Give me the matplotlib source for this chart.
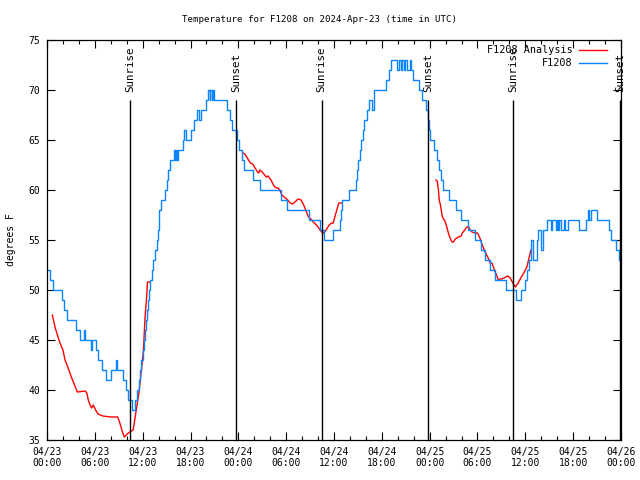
import matplotlib
matplotlib.use("Agg")
import matplotlib.pyplot as plt
from matplotlib.ticker import MultipleLocator

# ---- data (hours since 2024-04-23 00:00 UTC) ----
obs_hours = [0.1, 0.38, 0.79, 1.84, 2.17, 2.47, 3.6, 4.1, 4.64, 4.77, 5.55, 5.7, 6.1, 6.36, 6.94,
             7.4, 8.03, 8.6, 8.82, 9.49, 9.87, 10.2, 10.7, 11.1, 11.33, 11.54, 11.7, 11.85, 12.0,
             12.2, 12.35, 12.45, 12.55, 12.65, 12.8, 12.92, 13.13, 13.34, 13.6, 13.8, 13.9, 14.0,
             14.1, 14.3, 14.85, 15.0, 15.22, 15.39, 15.9, 16.06, 16.14, 16.3, 16.4, 17.0, 17.2,
             17.44, 18.0, 18.4, 18.86, 19.1, 19.3, 19.9, 20.16, 20.4, 20.5, 20.7, 20.8, 21.0,
             22.6, 22.96, 23.25, 23.85, 24.1, 24.45, 24.75, 25.8, 26.75, 29.35, 30.15, 32.85,
             34.3, 34.75, 35.9, 36.76, 36.85, 37.0, 37.9, 38.8, 38.9, 39.06, 39.2, 39.4, 39.6,
             39.8, 40.1, 40.4, 40.8, 41.0, 42.5, 42.9, 43.1, 43.9, 44.2, 44.35, 44.5, 44.8,
             44.96, 45.2, 45.5, 45.7, 45.9, 46.7, 47.1, 47.6, 47.8, 47.95, 48.1, 48.5, 48.9,
             49.2, 49.4, 49.7, 50.4, 51.3, 51.9, 52.8, 53.7, 54.5, 55.0, 55.6, 56.2, 57.6,
             58.85, 59.4, 59.97, 60.2, 60.4, 60.73, 61.02, 61.44, 61.56, 61.98, 62.19, 62.7,
             63.24, 63.4, 63.8, 63.99, 64.16, 64.28, 64.45, 64.8, 65.0, 65.41, 66.75, 67.59,
             67.8, 68.0, 68.26, 68.97, 70.51, 70.76, 71.35, 71.81, 72.0]
obs_temps = [52, 51, 50, 49, 48, 47, 46, 45, 46, 45, 44, 45, 44, 43, 42,
             41, 42, 43, 42, 41, 40, 39, 38, 39, 40, 41, 42, 43, 44,
             45, 46, 47, 48, 49, 50, 51, 52, 53, 54, 55, 56, 57,
             58, 59, 60, 61, 62, 63, 64, 63, 64, 63, 64, 65, 66,
             65, 66, 67, 68, 67, 68, 69, 70, 69, 70, 69, 70, 69,
             68, 67, 66, 65, 64, 63, 62, 61, 60, 59, 58, 57,
             56, 55, 56, 57, 58, 59, 60, 61, 62, 63, 64, 65, 66,
             67, 68, 69, 68, 70, 71, 72, 73, 72, 73, 72, 73, 72,
             73, 72, 73, 72, 71, 70, 69, 68, 67, 66, 65, 64, 63,
             62, 61, 60, 59, 58, 57, 56, 55, 54, 53, 52, 51, 50,
             49, 50, 51, 52, 53, 55, 53, 55, 56, 54, 56, 57,
             56, 57, 56, 57, 56, 57, 56, 57, 56, 57, 56, 57,
             58, 57, 58, 57, 56, 55, 54, 53, 53]

anl_a_hours = [0.67, 1.0, 1.3, 1.63, 2.0, 2.26, 2.6, 3.1, 3.5, 3.8, 4.8, 5.0, 5.18, 5.4, 5.6, 5.8,
               6.1, 6.4, 7.0, 8.0, 8.87, 9.1, 9.5, 9.7, 10.2, 10.8, 10.95, 11.25, 11.5, 11.8,
               12.1, 12.3, 12.5, 12.6, 12.9]
anl_a_temps = [47.5, 46.3, 45.5, 44.7, 44.0, 43.0, 42.3, 41.2, 40.4, 39.8, 39.9, 39.7, 39.0, 38.5,
               38.2, 38.5, 38.0, 37.6, 37.4, 37.3, 37.3, 36.8, 35.7, 35.3, 35.7, 36.0, 36.7, 38.3,
               39.5, 41.7, 44.0, 47.3, 49.3, 50.8, 50.8]
anl_b_hours = [24.63, 24.9, 25.2, 25.5, 25.8, 26.1, 26.4, 26.55, 26.7, 27.0, 27.3, 27.5, 27.7, 28.1,
               28.4, 28.6, 28.8, 29.0, 29.2, 29.4, 29.6, 29.9, 30.2, 30.5, 30.8, 31.1, 31.5, 31.87,
               32.2, 32.4, 32.6, 32.8, 33.1, 33.4, 33.8, 34.0, 34.25, 34.45, 34.7, 35.0, 35.4, 35.7,
               35.9, 36.1, 36.35, 36.6, 37.0]
anl_b_temps = [63.7, 63.5, 63.1, 62.7, 62.6, 62.2, 61.8, 61.7, 62.0, 61.8, 61.5, 61.3, 61.4, 61.0,
               60.5, 60.3, 60.2, 60.2, 60.0, 59.6, 59.4, 59.2, 59.0, 58.7, 58.6, 58.8, 59.1, 59.0,
               58.5, 58.1, 57.7, 57.3, 57.1, 56.8, 56.5, 56.3, 56.0, 55.8, 55.7, 56.0, 56.5, 56.7,
               56.7, 57.3, 58.0, 58.7, 58.7]
anl_c_hours = [48.77, 48.95, 49.1, 49.2, 49.35, 49.6, 49.85, 50.0, 50.15, 50.35, 50.55, 50.8, 51.0,
               51.2, 51.6, 51.95, 52.1, 52.4, 52.65, 52.9, 53.1, 53.3, 53.7, 54.0, 54.3, 54.5, 54.7,
               54.95, 55.15, 55.4, 55.6, 55.8, 56.0, 56.2, 56.4, 56.6, 56.85, 57.05, 57.3, 57.8,
               58.1, 58.5, 58.75, 59.1, 59.5, 59.8, 60.2, 60.4, 60.55, 60.7]
anl_c_temps = [61.0, 60.9, 60.0, 59.0, 58.5, 57.3, 57.0, 56.7, 56.3, 55.7, 55.2, 54.8, 54.8, 55.1,
               55.3, 55.4, 55.7, 56.0, 56.3, 56.3, 56.0, 55.8, 55.7, 55.7, 55.2, 54.7, 54.3, 53.8,
               53.5, 53.1, 52.7, 52.7, 52.3, 51.8, 51.5, 51.0, 51.1, 51.1, 51.2, 51.4, 51.2, 50.6,
               50.3, 50.7, 51.3, 51.7, 52.3, 53.0, 53.5, 54.0]

sun_hours = [10.45, 23.71, 34.46, 47.85, 58.5, 71.9]
sun_labels = ["Sunrise", "Sunset", "Sunrise", "Sunset", "Sunrise", "Sunset"]

tick_hours = list(range(0, 73, 6))
tick_labels = ["04/23\n00:00", "04/23\n06:00", "04/23\n12:00", "04/23\n18:00",
               "04/24\n00:00", "04/24\n06:00", "04/24\n12:00", "04/24\n18:00",
               "04/25\n00:00", "04/25\n06:00", "04/25\n12:00", "04/25\n18:00",
               "04/26\n00:00"]

FONT = "DejaVu Sans Mono"
FS = 7
BLUE = "#0a84ff"
RED = "#ff0000"

fig = plt.figure(figsize=(6.4, 4.8), dpi=100)
ax = fig.add_axes([47 / 640, 40 / 480, 574 / 640, 400 / 480])

ax.plot(anl_a_hours, anl_a_temps, color=RED, lw=1.0, label="F1208 Analysis")
ax.plot(anl_b_hours, anl_b_temps, color=RED, lw=1.0)
ax.plot(anl_c_hours, anl_c_temps, color=RED, lw=1.0)
ax.plot(obs_hours, obs_temps, color=BLUE, lw=1.0, drawstyle="steps-post", label="F1208")

ax.vlines(sun_hours, 35, 69, color="black", lw=1.0)
for h, lab in zip(sun_hours, sun_labels):
    ax.text(h, 69.8, lab, rotation=90, ha="center", va="bottom",
            fontsize=7.8, family=FONT, clip_on=False)

ax.set_xlim(0, 72)
ax.set_ylim(35, 75)
ax.set_xticks(tick_hours)
ax.set_xticklabels(tick_labels, family=FONT, fontsize=FS, linespacing=1.1)
ax.xaxis.set_minor_locator(MultipleLocator(2))
ax.set_yticks(range(35, 76, 5))
ax.set_yticklabels([str(v) for v in range(35, 76, 5)], family=FONT, fontsize=FS)
ax.tick_params(which="both", direction="in", top=True, right=True, width=0.8)
ax.tick_params(which="major", length=6, pad=5)
ax.tick_params(which="minor", length=3)
for s in ax.spines.values():
    s.set_linewidth(0.9)

ax.set_ylabel("degrees F", family=FONT, fontsize=FS, labelpad=9)
fig.text(0.5, 1 - 20 / 480, "Temperature for F1208 on 2024-Apr-23 (time in UTC)",
         ha="center", va="center", family=FONT, fontsize=6.6)

leg = ax.legend(loc="upper right", bbox_to_anchor=(1 - 9 / 574, 1.0),
                markerfirst=False, frameon=False,
                prop={"family": FONT, "size": 7.3}, handlelength=2.8,
                borderaxespad=0.1, labelspacing=0.3, handletextpad=0.6)

fig.savefig("out.png", dpi=100)
